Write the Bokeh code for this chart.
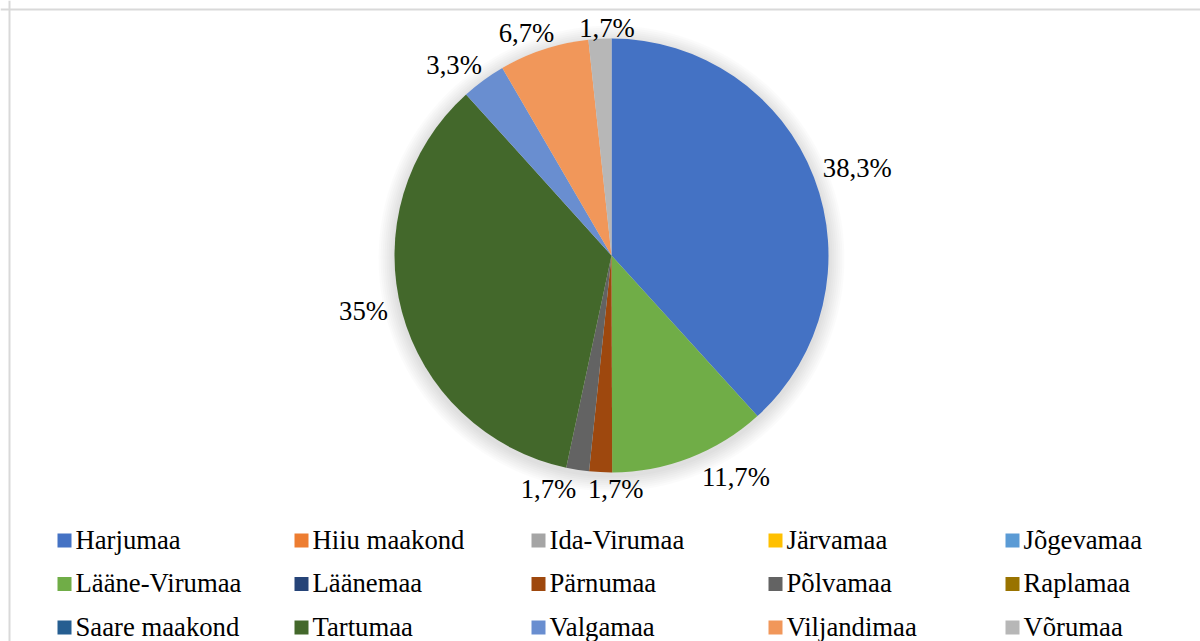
import math
from bokeh.plotting import figure
from bokeh.models import Range1d, ColumnDataSource, Span
from bokeh.embed import file_html
from bokeh.resources import INLINE
from bokeh.core.properties import value

# ---------------- data ----------------
counties = ["Harjumaa", "Hiiu maakond", "Ida-Virumaa", "Järvamaa", "Jõgevamaa",
            "Lääne-Virumaa", "Läänemaa", "Pärnumaa", "Põlvamaa", "Raplamaa",
            "Saare maakond", "Tartumaa", "Valgamaa", "Viljandimaa", "Võrumaa"]
shares = [38.3, 0, 0, 0, 0, 11.7, 0, 1.7, 1.7, 0, 0, 35.0, 3.3, 6.7, 1.7]
colors = ["#4472C4", "#ED7D31", "#A5A5A5", "#FFC000", "#5B9BD5",
          "#70AD47", "#264478", "#9E480E", "#636363", "#997300",
          "#255E91", "#43682B", "#698ED0", "#F1975A", "#B7B7B7"]

# ---------------- layout (pixels) ----------------
W, H = 1200, 641
CX, CY, R = 611, H - 255, 217
FONT = "Liberation Serif"
FS = 26.7
# label nudges (screen px, +dy = down) for the non-zero slices, in order
label_nudge = [(7, 5), (36, -6), (16, -1), (-26, -1), (-10, -8), (-12, 9), (-10, 6), (8, 7)]

p = figure(width=W, height=H, x_range=Range1d(0, W), y_range=Range1d(0, H),
           output_backend="svg", toolbar_location=None,
           x_axis_location=None, y_axis_location=None, min_border=0)
p.outline_line_color = None
p.grid.visible = False
p.background_fill_color = "white"
p.border_fill_color = "white"

# chart-area frame (top & left edges visible in window)
p.add_layout(Span(location=H - 9, dimension="width", line_color="#D9D9D9", line_width=2))
p.add_layout(Span(location=9, dimension="height", line_color="#D9D9D9", line_width=2))

# soft shadow
for k in range(2, 18, 2):
    p.circle(x=[CX], y=[CY - 3], radius=R + k, fill_color="black", fill_alpha=0.016,
             line_color=None)

total = sum(shares)
starts, ends, cols, labs, lx, ly = [], [], [], [], [], []
cum = 0.0
char_w = {"%": 0.833, ",": 0.25}
ni = 0
for name, v, c in zip(counties, shares, colors):
    if v <= 0:
        continue
    a0 = cum / total * 2 * math.pi
    cum += v
    a1 = cum / total * 2 * math.pi
    starts.append(math.pi / 2 - a1)
    ends.append(math.pi / 2 - a0)
    cols.append(c)
    txt = f"{v:.1f}".replace(".", ",")
    if txt.endswith(",0"):
        txt = txt[:-2]
    txt += "%"
    labs.append(txt)
    mid = (a0 + a1) / 2
    s, co = math.sin(mid), math.cos(mid)
    hw = sum(char_w.get(ch, 0.5) for ch in txt) * 26 / 2
    hh = 13
    d = R + 3 + abs(s) * hw + abs(co) * hh
    dx, dy = label_nudge[ni]
    lx.append(CX + d * s + dx)
    ly.append(CY + d * co - dy)
    ni += 1

src = ColumnDataSource(dict(start=starts, end=ends, color=cols))
p.wedge(x=CX, y=CY, radius=R, start_angle="start", end_angle="end",
        fill_color="color", line_color=None, source=src)

p.text(x=lx, y=ly, text=labs, text_font=value(FONT), text_font_size=f"{FS}px",
       text_align="center", text_baseline="middle", text_color="black")

# legend (5 columns x 3 rows)
mx, my, tx, ty = [], [], [], []
for i, name in enumerate(counties):
    col, row = i % 5, i // 5
    cxm = 64 + 237 * col
    cym = (H - 540) - 43.5 * row
    mx.append(cxm)
    my.append(cym)
    tx.append(cxm + 11)
    ty.append(cym + 1)
p.rect(x=mx, y=my, width=14, height=14, fill_color=colors, line_color=None)
p.text(x=tx, y=ty, text=counties, text_font=value(FONT), text_font_size=f"{FS}px",
       text_align="left", text_baseline="middle", text_color="black")

open("out.html", "w").write(file_html(p, INLINE))
